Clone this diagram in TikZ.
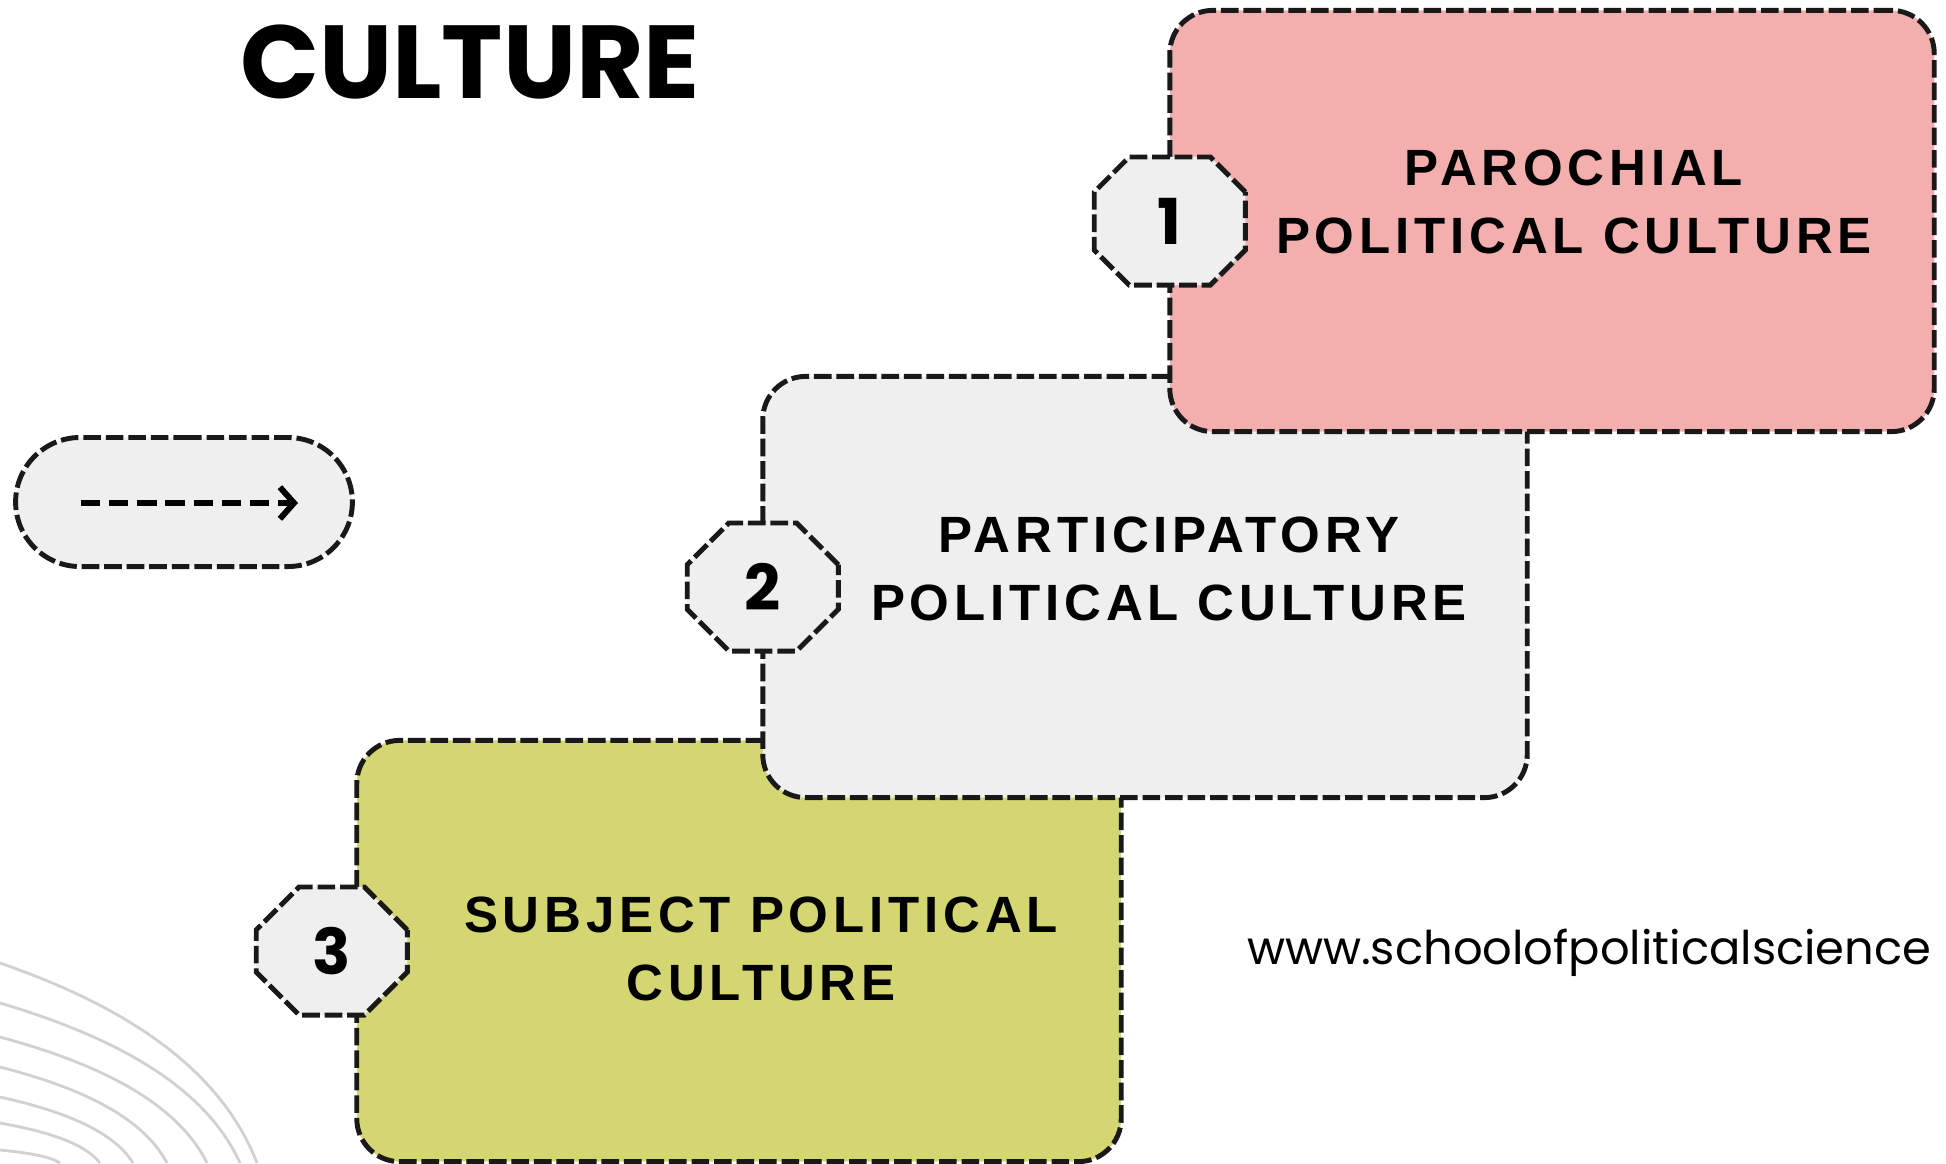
\documentclass[tikz,border=0pt]{standalone}
\usepackage{fontspec}
\setmainfont{Liberation Sans}
\newfontfamily\cardfont[LetterSpace=9.5]{Liberation Sans}
\newfontfamily\headfont{Poppins}
\usetikzlibrary{shapes.misc,arrows.meta}

\definecolor{parochial}{HTML}{F2AFAD}
\definecolor{participatory}{HTML}{EFEFEF}
\definecolor{subject}{HTML}{D3D671}
\definecolor{badgegrey}{HTML}{EFEFEF}

\begin{document}
\begin{tikzpicture}[x=0.01cm,y=-0.01cm,every node/.style={outer sep=0pt},
    card/.style={draw=black!90, line width=1.4pt, dash pattern=on 5pt off 1.4pt, rounded corners=0.43cm, minimum width=7.64cm, minimum height=4.21cm},
    badge/.style={chamfered rectangle, chamfered rectangle sep=0.38cm, draw=black!90, line width=1.4pt, dash pattern=on 5pt off 1.4pt, fill=badgegrey, minimum width=1.51cm, minimum height=1.28cm, inner sep=0pt, font=\headfont\bfseries\fontsize{18}{18}\selectfont},
    cardtext/.style={align=center, font=\cardfont\bfseries\fontsize{14.5}{19.3}\selectfont, text=black},
    wave/.style={draw=black!18, line width=0.8pt}]
    \fill[white, use as bounding box] (0,0) rectangle (1946,1163);

    \foreach \ya/\xb in {963/257, 1003/240, 1037/207, 1067/167, 1097/133, 1123/100, 1150/60}
        \draw[wave] (0,\ya) .. controls ({0.45*\xb},{\ya+0.2*(1163-\ya)}) and ({0.85*\xb},{\ya+0.5*(1163-\ya)}) .. (\xb,1163);

    \node[font=\headfont\bfseries\fontsize{29.5}{29.5}\selectfont] (title) at (470,62) {CULTURE};

    \node[rounded rectangle, draw=black!90, line width=1.4pt, dash pattern=on 5pt off 1.4pt, fill=badgegrey, minimum width=3.6cm, minimum height=1.29cm] (pill) at (184,502) {};
    \coordinate (a1) at (81,503);
    \coordinate (a2) at (298,503);
    \draw[line width=1.7pt, dash pattern=on 5.5pt off 2.5pt, -{Straight Barb[length=4pt,width=9pt]}] (a1) -- (a2);

    \node[card, fill=subject] (subj) at (739,951) {};
    \node[card, fill=participatory] (part) at (1145,587) {};
    \node[card, fill=parochial] (paro) at (1552,221) {};

    \node[badge] (n3) at ([xshift=-0.25cm]subj.west) {3};
    \node[badge] (n2) at (part.west) {2};
    \node[badge] (n1) at (paro.west) {1};

    \node[cardtext] (t1) at (1574,202) {PAROCHIAL\\POLITICAL CULTURE};
    \node[cardtext] (t2) at (1169,569) {PARTICIPATORY\\POLITICAL CULTURE};
    \node[cardtext] (t3) at (761,949) {SUBJECT POLITICAL\\CULTURE};

    \node[anchor=west, font=\headfont\fontsize{13.2}{13.2}\selectfont, inner sep=0pt] (url) at (1247,953) {www.schoolofpoliticalscience};
\end{tikzpicture}
\end{document}
